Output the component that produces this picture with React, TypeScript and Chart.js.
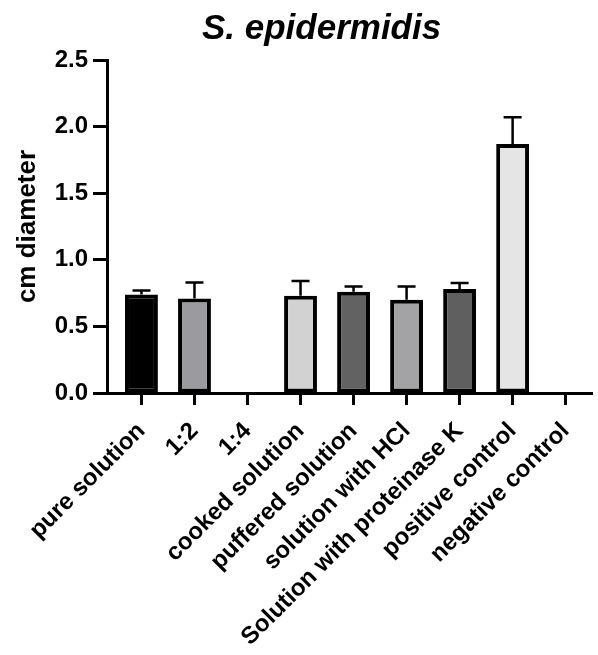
import React, { useEffect, useRef } from "react";
import { Chart, registerables } from "chart.js";

Chart.register(...registerables);

const categories = [
  "pure solution",
  "1:2",
  "1:4",
  "cooked solution",
  "puffered solution",
  "solution with HCl",
  "Solution with proteinase K",
  "positive control",
  "negative control",
];
const means = [0.74, 0.71, 0, 0.73, 0.76, 0.7, 0.78, 1.87, 0];
const errors = [0.03, 0.12, 0, 0.11, 0.04, 0.1, 0.045, 0.2, 0];
const barColors = ["#000000", "#9b9b9f", "#ffffff", "#d2d2d2", "#626262", "#a3a3a6", "#5f5f5f", "#e5e5e5", "#ffffff"];
const yTicks = [0, 0.5, 1.0, 1.5, 2.0, 2.5];
const titleText = "S. epidermidis";
const yTitle = "cm diameter";

const FONT = "'Liberation Sans', Arial, sans-serif";

const errorBarPlugin = {
  id: "errorBars",
  afterDatasetsDraw(chart: any) {
    const meta = chart.getDatasetMeta(0);
    const y = chart.scales.y;
    const ctx = chart.ctx;
    ctx.save();
    ctx.strokeStyle = "#000";
    ctx.lineWidth = 2.5;
    meta.data.forEach((bar: any, i: number) => {
      if (!errors[i]) return;
      const x = bar.x;
      const y0 = y.getPixelForValue(means[i]);
      const y1 = y.getPixelForValue(means[i] + errors[i]);
      ctx.beginPath();
      ctx.moveTo(x, y0);
      ctx.lineTo(x, y1);
      ctx.moveTo(x - 9, y1);
      ctx.lineTo(x + 9, y1);
      ctx.stroke();
    });
    ctx.restore();
  },
};

const titlePlugin = {
  id: "customTitle",
  afterDraw(chart: any) {
    const ctx = chart.ctx;
    const area = chart.chartArea;
    ctx.save();
    ctx.fillStyle = "#000";
    ctx.font = `italic bold 35px ${FONT}`;
    ctx.textAlign = "center";
    ctx.textBaseline = "alphabetic";
    ctx.fillText(titleText, (area.left + area.right) / 2 - 28, 39);
    ctx.restore();
  },
};

export default function App() {
  const ref = useRef<HTMLCanvasElement>(null);
  useEffect(() => {
    if (!ref.current) return;
    const chart = new Chart(ref.current, {
      type: "bar",
      data: {
        datasets: [
          {
            data: means.map((v, i) => ({ x: i, y: v })),
            backgroundColor: barColors,
            borderColor: "#000",
            borderWidth: 4,
            borderSkipped: false,
            barPercentage: 0.62,
            categoryPercentage: 1,
          },
        ],
      },
      options: {
        animation: false,
        responsive: true,
        maintainAspectRatio: false,
        layout: { padding: { top: 60, left: 0, right: 0, bottom: 0 } },
        plugins: { legend: { display: false }, tooltip: { enabled: false }, title: { display: false } },
        scales: {
          x: {
            type: "linear",
            offset: false,
            min: -0.65,
            max: 8.5,
            afterBuildTicks(scale: any) {
              scale.ticks = categories.map((_, i) => ({ value: i }));
            },
            afterFit(scale: any) {
              scale.height = 262;
            },
            ticks: {
              autoSkip: false,
              maxRotation: 45,
              minRotation: 45,
              padding: 12,
              color: "#000",
              font: { family: FONT, size: 24, weight: "bold" },
              callback: (v: any) => categories[Math.round(v)] ?? "",
            },
            grid: { offset: false, drawOnChartArea: false, drawTicks: true, tickLength: 12, tickWidth: 3, tickColor: "#000" },
            border: { display: true, width: 3, color: "#000" },
          },
          y: {
            min: 0,
            max: 2.5,
            afterBuildTicks(scale: any) {
              scale.ticks = yTicks.map((v) => ({ value: v }));
            },
            afterFit(scale: any) {
              scale.width = 107;
            },
            ticks: {
              padding: 5,
              color: "#000",
              font: { family: FONT, size: 24, weight: "bold" },
              callback: (v: any) => Number(v).toFixed(1),
            },
            title: {
              display: true,
              text: yTitle,
              color: "#000",
              padding: { top: 12, bottom: 0 },
              font: { family: FONT, size: 26, weight: "bold" },
            },
            grid: { drawOnChartArea: false, drawTicks: true, tickLength: 14, tickWidth: 3, tickColor: "#000" },
            border: { display: true, width: 3, color: "#000" },
          },
        },
      },
      plugins: [errorBarPlugin, titlePlugin],
    } as any);
    return () => chart.destroy();
  }, []);
  return (
    <div style={{ position: "fixed", left: 0, top: 0, width: 598, height: 655, background: "#fff" }}>
      <canvas ref={ref} />
    </div>
  );
}
